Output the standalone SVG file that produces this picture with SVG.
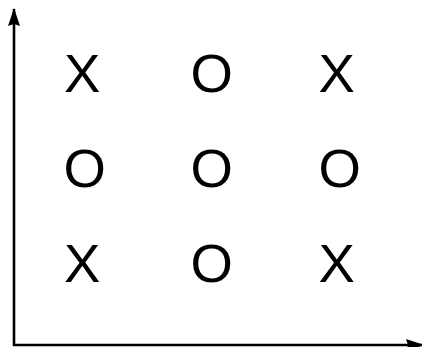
<svg xmlns="http://www.w3.org/2000/svg" width="422" height="347" viewBox="0 0 422 347">
<style>
.ax{stroke:#000;stroke-width:2.6;fill:none}
.m{font-family:"Liberation Sans",Arial,sans-serif;font-size:54.5px;fill:#000}
</style>
<defs>
<marker id="ah" viewBox="0 0 18 12" refX="17" refY="6" markerWidth="18" markerHeight="12" markerUnits="userSpaceOnUse" orient="auto">
<path d="M0,0 L18,6 L0,12 L2,6 Z" fill="#000"/>
</marker>
</defs>
<g id="connectors">
<path class="ax" d="M14,346 L14,9" marker-end="url(#ah)"/>
<path class="ax" d="M13,345 L423,345" marker-end="url(#ah)"/>
</g>
<g id="r1c1"><text class="m" x="64" y="92">X</text></g>
<g id="r1c2"><text class="m" x="190.5" y="92">O</text></g>
<g id="r1c3"><text class="m" x="318.5" y="92">X</text></g>
<g id="r2c1"><text class="m" x="63.5" y="187">O</text></g>
<g id="r2c2"><text class="m" x="190.5" y="187">O</text></g>
<g id="r2c3"><text class="m" x="318.5" y="187">O</text></g>
<g id="r3c1"><text class="m" x="64" y="282">X</text></g>
<g id="r3c2"><text class="m" x="190.5" y="282">O</text></g>
<g id="r3c3"><text class="m" x="318.5" y="282">X</text></g>
</svg>
